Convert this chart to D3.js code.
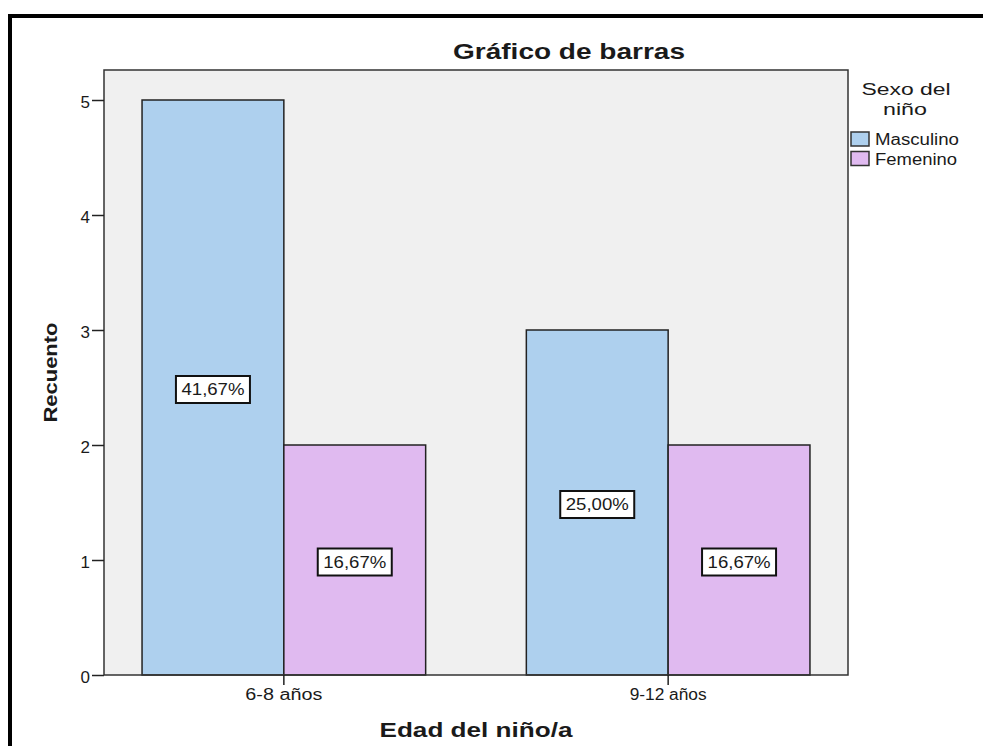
<!DOCTYPE html>
<html>
<head>
<meta charset="utf-8">
<script src="https://cdn.jsdelivr.net/npm/d3@7"></script>
<style>
  html, body { margin: 0; padding: 0; background: #fff; }
  svg { display: block; }
  text { font-family: "Liberation Sans", Arial, sans-serif; fill: #1a1a1a; }
</style>
</head>
<body>
<svg id="chart" width="983" height="746"></svg>
<script>
// Recuento por edad y sexo
const categories = ["6-8 años", "9-12 años"];
const seriesNames = ["Masculino", "Femenino"];
const masculino = [5, 3];
const femenino = [2, 2];
const percentMasculino = ["41,67%", "25,00%"];
const percentFemenino = ["16,67%", "16,67%"];
const yTicks = [0, 1, 2, 3, 4, 5];
const seriesColors = ["#aed0ee", "#e0baf0"];

const rows = categories.map((c, i) => ({
  cat: c,
  bars: [
    { key: seriesNames[0], value: masculino[i], label: percentMasculino[i] },
    { key: seriesNames[1], value: femenino[i], label: percentFemenino[i] }
  ]
}));

const svg = d3.select("#chart");

// marco exterior
svg.append("rect")
  .attr("x", 10).attr("y", 16)
  .attr("width", 1000).attr("height", 800)
  .attr("fill", "none").attr("stroke", "#000").attr("stroke-width", 4);

const plot = { left: 104, right: 848, top: 70, bottom: 675 };

const x0 = d3.scaleBand()
  .domain(categories)
  .range([plot.left, plot.right])
  .paddingInner(0.262)
  .paddingOuter(0.099);

const x1 = d3.scaleBand()
  .domain(seriesNames)
  .range([0, x0.bandwidth()])
  .padding(0);

const y = d3.scaleLinear()
  .domain([0, 5])
  .range([plot.bottom, plot.bottom - 5 * 115]);

const color = d3.scaleOrdinal().domain(seriesNames).range(seriesColors);

// fondo del área de trazado
svg.append("rect")
  .attr("x", plot.left).attr("y", plot.top)
  .attr("width", plot.right - plot.left).attr("height", plot.bottom - plot.top)
  .attr("fill", "#f0f0f0");

// barras
const groups = svg.append("g").selectAll("g")
  .data(rows).join("g")
  .attr("transform", d => `translate(${x0(d.cat)},0)`);

groups.selectAll("rect")
  .data(d => d.bars).join("rect")
  .attr("x", d => x1(d.key))
  .attr("y", d => y(d.value))
  .attr("width", x1.bandwidth())
  .attr("height", d => y(0) - y(d.value))
  .attr("fill", d => color(d.key))
  .attr("stroke", "#222")
  .attr("stroke-width", 1.5);

// etiquetas de porcentaje
const lab = groups.selectAll("g.lab")
  .data(d => d.bars).join("g")
  .attr("class", "lab")
  .attr("transform", d => `translate(${x1(d.key) + x1.bandwidth() / 2},${y(d.value / 2) + 2})`);

lab.append("rect")
  .attr("x", -37).attr("y", -13.5)
  .attr("width", 74).attr("height", 27)
  .attr("fill", "#fff").attr("stroke", "#111").attr("stroke-width", 2);

lab.append("text")
  .attr("text-anchor", "middle")
  .attr("dy", "0.36em")
  .attr("font-size", 16)
  .attr("textLength", 63)
  .attr("lengthAdjust", "spacingAndGlyphs")
  .text(d => d.label);

// borde del área de trazado
svg.append("rect")
  .attr("x", plot.left).attr("y", plot.top)
  .attr("width", plot.right - plot.left).attr("height", plot.bottom - plot.top)
  .attr("fill", "none").attr("stroke", "#333").attr("stroke-width", 1.5);

// eje Y
const yAxis = svg.append("g")
  .attr("transform", `translate(${plot.left},0)`)
  .call(d3.axisLeft(y).tickValues(yTicks).tickSize(12).tickPadding(2).tickFormat(d3.format("d")));
yAxis.select(".domain").remove();
yAxis.selectAll(".tick line").attr("stroke", "#222").attr("stroke-width", 1.5);
yAxis.selectAll(".tick text")
  .attr("font-family", "Liberation Sans, Arial, sans-serif")
  .attr("font-size", 17).attr("fill", "#1a1a1a").attr("dy", "0.42em");

// eje X
const xAxis = svg.append("g")
  .attr("transform", `translate(0,${plot.bottom})`)
  .call(d3.axisBottom(x0).tickSize(10).tickPadding(4));
xAxis.select(".domain").remove();
xAxis.selectAll(".tick line").attr("stroke", "#222").attr("stroke-width", 1.5);
xAxis.selectAll(".tick text")
  .attr("font-family", "Liberation Sans, Arial, sans-serif")
  .attr("font-size", 16).attr("fill", "#1a1a1a")
  .attr("textLength", 77).attr("lengthAdjust", "spacingAndGlyphs");

// título
svg.append("text")
  .attr("x", 569).attr("y", 59)
  .attr("text-anchor", "middle")
  .attr("font-size", 22).attr("font-weight", "bold")
  .attr("textLength", 232).attr("lengthAdjust", "spacingAndGlyphs")
  .text("Gráfico de barras");

// título del eje X
svg.append("text")
  .attr("x", (plot.left + plot.right) / 2).attr("y", 737)
  .attr("text-anchor", "middle")
  .attr("font-size", 20).attr("font-weight", "bold")
  .attr("textLength", 193).attr("lengthAdjust", "spacingAndGlyphs")
  .text("Edad del niño/a");

// título del eje Y
svg.append("text")
  .attr("transform", `translate(57,${(plot.top + plot.bottom) / 2}) rotate(-90)`)
  .attr("text-anchor", "middle")
  .attr("font-size", 19).attr("font-weight", "bold")
  .attr("textLength", 100).attr("lengthAdjust", "spacingAndGlyphs")
  .text("Recuento");

// leyenda
const legend = svg.append("g");
legend.append("text")
  .attr("x", 906).attr("y", 95)
  .attr("text-anchor", "middle").attr("font-size", 16)
  .attr("textLength", 89).attr("lengthAdjust", "spacingAndGlyphs")
  .text("Sexo del");
legend.append("text")
  .attr("x", 905).attr("y", 115)
  .attr("text-anchor", "middle").attr("font-size", 16)
  .attr("textLength", 44).attr("lengthAdjust", "spacingAndGlyphs")
  .text("niño");

const legendWidths = [84, 82];
const items = legend.selectAll("g.item")
  .data(seriesNames).join("g")
  .attr("class", "item")
  .attr("transform", (d, i) => `translate(851,${132 + i * 19.5})`);
items.append("rect")
  .attr("width", 18).attr("height", 14)
  .attr("fill", d => color(d)).attr("stroke", "#333").attr("stroke-width", 1.5);
items.append("text")
  .attr("x", 24).attr("y", 13)
  .attr("font-size", 16)
  .attr("textLength", (d, i) => legendWidths[i]).attr("lengthAdjust", "spacingAndGlyphs")
  .text(d => d);
</script>
</body>
</html>
